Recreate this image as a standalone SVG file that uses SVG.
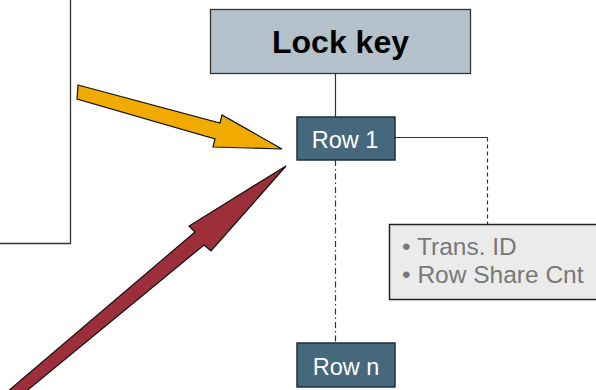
<svg xmlns="http://www.w3.org/2000/svg" width="596" height="390" viewBox="0 0 596 390">
<style>
.row rect{fill:#45687d;stroke:#1f2f3a;stroke-width:1.5}
.row text{fill:#fff;font-family:"Liberation Sans",Arial,sans-serif;font-size:23.5px;text-anchor:middle}
.conn{stroke:#333;stroke-width:1.2;fill:none}
.arrow{stroke:#111;stroke-width:1.2;stroke-linejoin:miter}
</style>
<rect width="596" height="390" fill="#fff"/>
<g id="left-box">
<polyline points="70.5,0 70.5,243.5 0,243.5" fill="none" stroke="#333" stroke-width="1.3"/>
</g>
<g id="connectors">
<line class="conn" x1="335.5" y1="73" x2="335.5" y2="117"/>
<polyline class="conn" points="395,137.5 487.5,137.5"/>
<line class="conn" x1="487.5" y1="137.5" x2="487.5" y2="224" stroke-dasharray="4,3"/>
<line class="conn" x1="335.5" y1="160" x2="335.5" y2="343" stroke-dasharray="6,3,1.5,3"/>
</g>
<g id="lock-key">
<rect x="210.5" y="9.5" width="260" height="64" fill="#b5c1ca" stroke="#333" stroke-width="1.3"/>
<text x="340.5" y="53" font-family="'Liberation Sans',Arial,sans-serif" font-size="32" font-weight="bold" text-anchor="middle" fill="#000">Lock key</text>
</g>
<g id="row1" class="row">
<rect x="297" y="117" width="98" height="43"/>
<text x="345" y="148">Row 1</text>
</g>
<g id="rown" class="row">
<rect x="297" y="343" width="98" height="44"/>
<text x="346" y="375">Row n</text>
</g>
<g id="info">
<rect x="389.5" y="224.5" width="215" height="75" fill="#ebebeb" stroke="#222" stroke-width="1.5"/>
<text font-family="'Liberation Sans',Arial,sans-serif" font-size="24.5" fill="#787878">
<tspan x="402" y="255">• Trans. ID</tspan>
<tspan x="402" y="282.5">• Row Share Cnt</tspan>
</text>
</g>
<g id="yellow-arrow">
<polygon class="arrow" fill="#f0aa00" points="78,85 220,123 222,115 282,149 213,147 215,139 77,99"/>
</g>
<g id="red-arrow">
<polygon class="arrow" fill="#9c2f3a" points="0,398 195,232 189,226 286,166 211,251 204,245 18,398"/>
</g>
</svg>
